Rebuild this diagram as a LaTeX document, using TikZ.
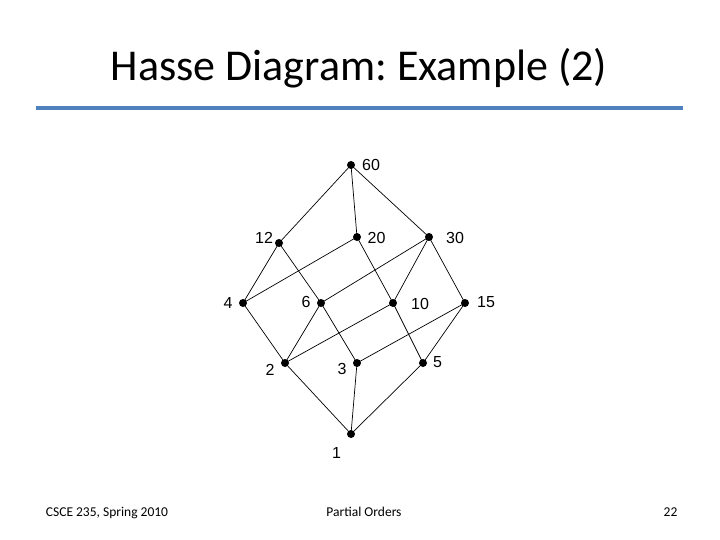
\documentclass[tikz,border=0pt]{standalone}
\usepackage{fontspec}
\setmainfont{Carlito}
\newfontfamily\labfont{Liberation Sans}
\definecolor{ruleblue}{RGB}{79,129,189}
\frenchspacing
\begin{document}
\begin{tikzpicture}[x=1pt,y=-1pt,
  vtx/.style={circle,fill=black,inner sep=0pt,minimum size=8pt},
  lab/.style={inner sep=0pt,font=\labfont\fontsize{16}{18}\selectfont},
  edge/.style={draw=black,line width=0.7pt},
  foot/.style={inner sep=0pt,anchor=base,font=\fontsize{13.5}{15}\selectfont}]
\useasboundingbox (0,0) rectangle (720,540);
\fill[white] (0,0) rectangle (720,540);
% title
\node[inner sep=0pt,anchor=base,font=\fontsize{44}{50}\selectfont] (title) at (359,81) {Hasse Diagram: Example (2)};
\coordinate (rl) at (36,108);
\coordinate (rr) at (683,108);
\draw[ruleblue,line width=3.5pt] (rl) -- (rr);
% vertices
\node[vtx] (n60) at (351,165) {};
\node[vtx] (n12) at (279,243) {};
\node[vtx] (n20) at (357,237) {};
\node[vtx] (n30) at (429,237) {};
\node[vtx] (n4) at (243,303) {};
\node[vtx] (n6) at (321,303) {};
\node[vtx] (n10) at (393,303) {};
\node[vtx] (n15) at (465,303) {};
\node[vtx] (n2) at (285,363) {};
\node[vtx] (n3) at (357,363) {};
\node[vtx] (n5) at (423,363) {};
\node[vtx] (n1) at (351,434) {};
% edges
\draw[edge] (n60.center) -- (n12.center);
\draw[edge] (n60.center) -- (n20.center);
\draw[edge] (n60.center) -- (n30.center);
\draw[edge] (n12.center) -- (n4.center);
\draw[edge] (n12.center) -- (n6.center);
\draw[edge] (n20.center) -- (n4.center);
\draw[edge] (n20.center) -- (n10.center);
\draw[edge] (n30.center) -- (n6.center);
\draw[edge] (n30.center) -- (n10.center);
\draw[edge] (n30.center) -- (n15.center);
\draw[edge] (n4.center) -- (n2.center);
\draw[edge] (n6.center) -- (n2.center);
\draw[edge] (n6.center) -- (n3.center);
\draw[edge] (n10.center) -- (n2.center);
\draw[edge] (n10.center) -- (n5.center);
\draw[edge] (n15.center) -- (n3.center);
\draw[edge] (n15.center) -- (n5.center);
\draw[edge] (n2.center) -- (n1.center);
\draw[edge] (n3.center) -- (n1.center);
\draw[edge] (n5.center) -- (n1.center);
% labels
\node[lab] (l60) at (371,165) {60};
\node[lab] (l12) at (264,238) {12};
\node[lab] (l20) at (376.5,237.5) {20};
\node[lab] (l30) at (455,237.5) {30};
\node[lab] (l4) at (228,303) {4};
\node[lab] (l6) at (306,302) {6};
\node[lab] (l10) at (420,303.5) {10};
\node[lab] (l15) at (486,302.5) {15};
\node[lab] (l2) at (270,370) {2};
\node[lab] (l3) at (342,369) {3};
\node[lab] (l5) at (437.5,362.5) {5};
\node[lab] (l1) at (336.5,452.5) {1};
% footer
\node[foot] (f1) at (107,516) {CSCE 235, Spring 2010};
\node[foot] (f2) at (364,516) {Partial Orders};
\node[foot] (f3) at (670.5,516) {22};
\end{tikzpicture}
\end{document}
